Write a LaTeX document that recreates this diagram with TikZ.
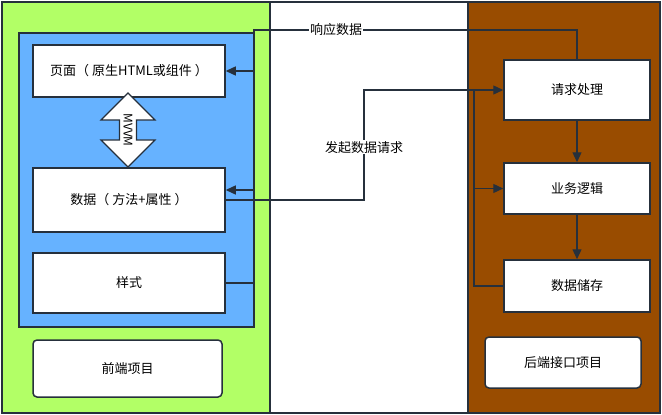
\documentclass[tikz,border=0pt]{standalone}
\usepackage{fontspec}
\setmainfont{Noto Sans CJK SC}
\usetikzlibrary{arrows.meta,shapes.arrows}

\definecolor{frontgreen}{RGB}{178,255,102}
\definecolor{viewblue}{RGB}{102,178,255}
\definecolor{backbrown}{RGB}{153,76,0}
\definecolor{edge}{RGB}{38,48,60}

\tikzset{
  part/.style={draw=edge, fill=white, line width=1.5pt, font=\fontsize{13}{15}\selectfont},
  project/.style={part, rounded corners=4pt},
  link/.style={draw=edge, line width=1.3pt},
  arr/.style={link, -{Triangle[length=10pt,width=9pt]}},
  tag/.style={fill=white, inner sep=1pt, font=\fontsize{13}{15}\selectfont},
}

\begin{document}
\begin{tikzpicture}[x=1pt,y=-1pt]
\useasboundingbox (0,0) rectangle (662,415);

% panels
\draw[edge, line width=1.5pt, fill=white] (2,2) rectangle (660,413);
\draw[edge, line width=1.5pt, fill=frontgreen] (2,2) rectangle (270,413);
\draw[edge, line width=1.5pt, fill=backbrown] (468,2) rectangle (660,413);
\draw[edge, line width=1.5pt, fill=viewblue] (19,33) rectangle (254,327);

% front end
\node[part, minimum width=192pt, minimum height=52pt] (page) at (129,71) {页面（ 原生HTML或组件 ）};
\node[part, minimum width=192pt, minimum height=64pt] (data) at (129,200) {数据（ 方法+属性 ）};
\node[part, minimum width=192pt, minimum height=60pt] (style) at (129,283) {样式};
\node[project, minimum width=189pt, minimum height=57pt] (front) at (127.5,368.5) {前端项目};

\node[double arrow, draw=edge, fill=white, line width=1.2pt, rotate=-90,
  minimum height=74pt, minimum width=54pt, double arrow head extend=11pt,
  double arrow tip angle=90, inner sep=0pt, font=\fontsize{12}{12}\selectfont] (mvvm) at (128,130) {MVVM};

% back end
\node[part, minimum width=146pt, minimum height=60pt] (req) at (577,90) {请求处理};
\node[part, minimum width=146pt, minimum height=51pt] (logic) at (577,188.5) {业务逻辑};
\node[part, minimum width=146pt, minimum height=52pt] (store) at (577,286) {数据储存};
\node[project, minimum width=156pt, minimum height=51pt] (back) at (563,362.5) {后端接口项目};

\coordinate (rtop) at (254,30);
\coordinate (rbend) at (364,90);
\coordinate (bx) at (474,90);

% response
\draw[link] (style.east) -| (rtop) -- node[tag, pos=.254] (resp) {响应数据} (rtop -| req.north) -- (req.north);
\draw[arr] (page.east -| rtop) -- (page.east);
\draw[arr] ([yshift=10pt]data.east -| rtop) -- ([yshift=10pt]data.east);

% request
\draw[arr] (data.east) -- (data.east -| rbend) -- node[tag, pos=.48] (ask) {发起数据请求} (rbend) -- (req.west);
\draw[link] (store.west) -| (bx);
\draw[arr] (logic.west -| bx) -- (logic.west);

\draw[arr] (req) -- (logic);
\draw[arr] (logic) -- (store);

\end{tikzpicture}
\end{document}
